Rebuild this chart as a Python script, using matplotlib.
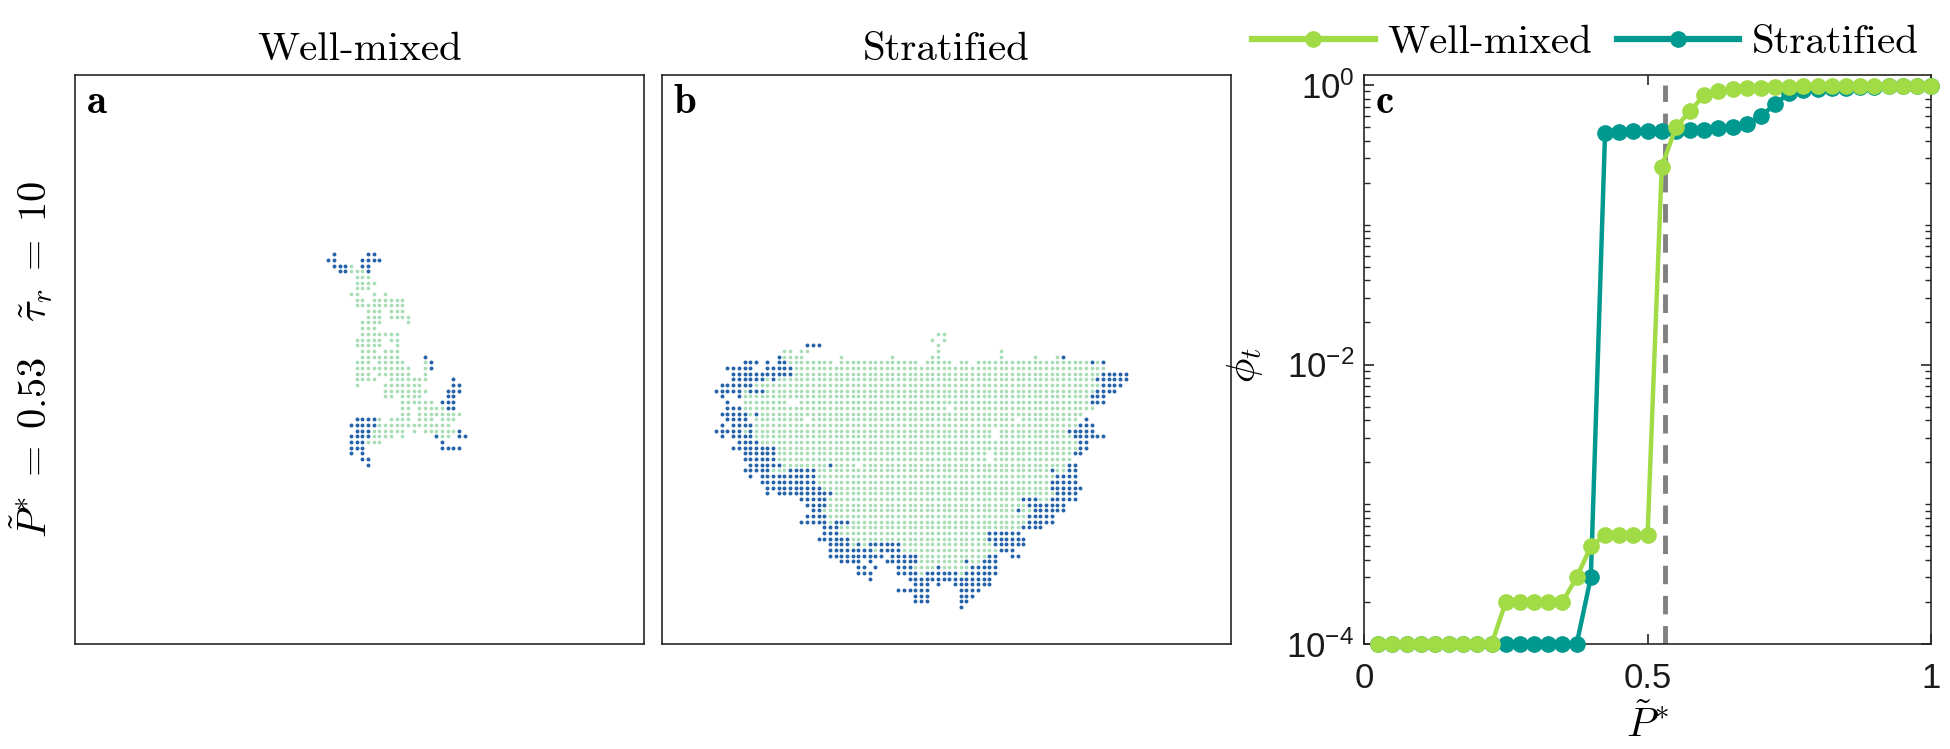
import numpy as np
import matplotlib
matplotlib.use('Agg')
import matplotlib.pyplot as plt
from matplotlib.lines import Line2D
from matplotlib.ticker import FixedLocator, NullFormatter

# lattice snapshots, one string per lattice row: "row: colA-colB<g|b> ..."
# g = interior (light green), b = boundary (blue)
well_mixed_rows = [
    "31: 45b 51-52b",
    "32: 44-45b 50-53b",
    "33: 45-47b 48g 50-51b",
    "34: 46-47b 48-50g 51b",
    "35: 49-51g",
    "36: 49-52g",
    "37: 49-51g",
    "38: 48-49g 52g 54g",
    "39: 49-50g 52-57g",
    "40: 49-57g",
    "41: 51-53g 55-57g",
    "42: 51-53g 55-58g",
    "43: 50-53g 58g",
    "44: 50-52g",
    "45: 50-56g",
    "46: 49-53g 55-56g",
    "47: 49-53g 56g",
    "48: 50-52g 54-56g",
    "49: 50-56g 61b",
    "50: 49-51g 53-57g 61g 62b",
    "51: 49-58g 61g 62b",
    "52: 49-51g 53-58g 61g",
    "53: 49-52g 55-61g 66b",
    "54: 49g 54-60g 66-67b",
    "55: 54-61g 65-67b",
    "56: 54-55g 57-60g 65-66b",
    "57: 57-62g 64-66b",
    "58: 57-58g 60-64g 65-66b",
    "59: 57-58g 60-67g",
    "60: 49-52b 53g 55-58g 60-62g 64-66g",
    "61: 48-52b 53-65g",
    "62: 49-51b 52-57g 59g 61-66g 67b",
    "63: 48-51b 52-55g 57g 63b 64-65g 67-68b",
    "64: 48-50b 51-53g 64b",
    "65: 48-50b 64-67b",
    "66: 48b 50b",
    "67: 50-51b",
    "68: 51b",
]

stratified_rows = [
    "45: 48-49g",
    "46: 47g 49g",
    "47: 25-27b 48g",
    "48: 21-22g 24-25g 48g 59g",
    "49: 20b 21-24g 31g 40g 47-48g 59g 65g 69g 70b",
    "50: 14-16b 18b 20-21b 22-29g 31-44g 46-50g 52-53g 55-74g 75b 76g 77b",
    "51: 11-15b 18-22b 23-77g",
    "52: 12-22b 23-76g 77-81b",
    "53: 12-17b 18g 19b 20-75g 76-81b",
    "54: 10-15b 16-76g 77-80b",
    "55: 9-13b 14g 15-17b 18-75g 76-79b",
    "56: 10b 13b 14-74g 75-77b",
    "57: 11b 14-21g 24-74g 75-77b",
    "58: 11-13b 14-49g 51-75g",
    "59: 10-14b 15g 16b 17-73g",
    "60: 11-14b 16-24g 26-61g 63-72g 74b",
    "61: 10b 12-15b 16-72g 73-75b",
    "62: 9-13b 14g 15b 16-57g 59-70g 71-75b",
    "63: 10b 12-15b 16-57g 59-71g 72-77b",
    "64: 13-16b 17-72g 73-74b",
    "65: 12-19b 20-72g 73-74b",
    "66: 14-19b 20-56g 58-71g 72-73b",
    "67: 14-19b 20-56g 58-71g",
    "68: 15-20b 21-28g 29b 30-33g 35-70g 71-72b",
    "69: 14-18b 19-21g 22-26b 27-67g 68b 69-70g 71-72b",
    "70: 15b 17-26b 27-68g 69-72b",
    "71: 17-26b 27-67g 68-72b",
    "72: 18-27b 28-67g 68-73b",
    "73: 18b 20-29b 30-68g 69-72b",
    "74: 24-28b 29-62g 63-65b 66-67g 68-72b",
    "75: 25-28b 29-63g 64-70b",
    "76: 26-27b 28-61g 62b 63-64g 65-70b",
    "77: 25-28b 29-63g 64-68b",
    "78: 24-28b 29g 30-32b 33-63g 64-68b",
    "79: 28-30b 31-62g 63-66b",
    "80: 28-30b 31-56g 57-62b",
    "81: 27-32b 33-56g 57-63b",
    "82: 29-32b 33g 34b 35g 36-41b 42-57g 58-63b",
    "83: 29-36b 37g 38-41b 42-58g 59-61b",
    "84: 29-38b 40-44b 45-56g 57-58b 61-62b",
    "85: 31-34b 36b 39-44b 45-52g 53b 54-55g 56-58b",
    "86: 34-35b 37b 41-43b 44-47g 48b 49-53g 54-58b",
    "87: 34-36b 41-44b 45g 46-51b 52g 53-58b",
    "88: 36b 43-57b",
    "89: 44-46b 48b 51-57b",
    "90: 41-46b 52-55b",
    "91: 44-46b 52-54b",
    "92: 44-46b 52-53b",
    "93: 52b",
]

# panel c
p_tilde = [0.025, 0.05, 0.075, 0.1, 0.125, 0.15, 0.175, 0.2, 0.225, 0.25,
           0.275, 0.3, 0.325, 0.35, 0.375, 0.4, 0.425, 0.45, 0.475, 0.5,
           0.525, 0.55, 0.575, 0.6, 0.625, 0.65, 0.675, 0.7, 0.725, 0.75,
           0.775, 0.8, 0.825, 0.85, 0.875, 0.9, 0.925, 0.95, 0.975, 1.0]
phi_well_mixed = [1e-4, 1e-4, 1e-4, 1e-4, 1e-4, 1e-4, 1e-4, 1e-4, 1e-4, 2e-4,
                  2e-4, 2e-4, 2e-4, 2e-4, 3e-4, 5e-4, 6e-4, 6e-4, 6e-4, 6e-4,
                  0.26, 0.50, 0.65, 0.85, 0.90, 0.93, 0.95, 0.96, 0.97, 0.97,
                  0.98, 0.98, 0.98, 0.99, 0.99, 0.99, 0.99, 0.99, 0.99, 0.99]
phi_stratified = [1e-4, 1e-4, 1e-4, 1e-4, 1e-4, 1e-4, 1e-4, 1e-4, 1e-4, 1e-4,
                  1e-4, 1e-4, 1e-4, 1e-4, 1e-4, 3e-4, 0.45, 0.46, 0.47, 0.47,
                  0.47, 0.47, 0.48, 0.48, 0.49, 0.50, 0.53, 0.60, 0.73, 0.88,
                  0.92, 0.94, 0.95, 0.96, 0.97, 0.97, 0.98, 0.98, 0.98, 0.99]
p_star = 0.53

col_green = '#a1db46'
col_teal = '#00998f'
col_in = '#a8ddb5'
col_edge = '#2563a8'
frame = '#262626'

plt.rcParams['font.family'] = ['Liberation Sans', 'DejaVu Sans']
plt.rcParams['mathtext.fontset'] = 'cm'


def parse_rows(rows):
    xs, ys, cs = [], [], []
    for line in rows:
        r, runs = line.split(':')
        r = int(r)
        for tok in runs.split():
            kind, span = tok[-1], tok[:-1]
            if '-' in span:
                a, b = map(int, span.split('-'))
            else:
                a = b = int(span)
            for c in range(a, b + 1):
                xs.append(c + 0.5)
                ys.append(r + 0.5)
                cs.append(kind)
    return np.array(xs), np.array(ys), np.array(cs)


def lattice_panel(ax, rows, title, letter):
    x, y, k = parse_rows(rows)
    g = k == 'g'
    ax.scatter(x[g], y[g], s=7, color=col_in, linewidths=0)
    ax.scatter(x[~g], y[~g], s=8, color=col_edge, linewidths=0)
    ax.set_xlim(0, 100)
    ax.set_ylim(100, 0)
    ax.set_xticks([])
    ax.set_yticks([])
    for s in ax.spines.values():
        s.set_color(frame)
        s.set_linewidth(1.2)
    ax.set_title(title, family='cmr10', fontsize=29.5, pad=11)
    ax.text(0.02, 0.985, letter, transform=ax.transAxes, ha='left', va='top',
            family='cmb10', fontsize=29.5)


fig = plt.figure(figsize=(19.5, 7.49), dpi=100)
ax_a = fig.add_axes([0.0385, 0.1402, 0.2918, 0.7597])
ax_b = fig.add_axes([0.3395, 0.1402, 0.2918, 0.7597])
ax_c = fig.add_axes([0.6995, 0.1402, 0.2908, 0.7597])

lattice_panel(ax_a, well_mixed_rows, 'Well-mixed', 'a')
lattice_panel(ax_b, stratified_rows, 'Stratified', 'b')
ax_a.set_ylabel(r'$\tilde{P}^{*}\;=\;0.53\quad\tilde{\tau}_r\;=\;10$', fontsize=29)
ax_a.yaxis.set_label_coords(-0.035, 0.5)

# panel c
ax_c.plot([p_star, p_star], [1e-4, 1], color='#808080', lw=3.5,
          dashes=(3.8, 2.4), zorder=1)
h_s, = ax_c.plot(p_tilde, phi_stratified, '-o', color=col_teal, lw=3.2,
                 ms=11, clip_on=False, zorder=3)
h_w, = ax_c.plot(p_tilde, phi_well_mixed, '-o', color=col_green, lw=3.2,
                 ms=11, clip_on=False, zorder=4)
ax_c.set_yscale('log')
ax_c.set_xlim(0, 1)
ax_c.set_ylim(1e-4, 10 ** 0.072)
ax_c.set_xticks([0, 0.5, 1])
ax_c.set_xticklabels(['0', '0.5', '1'])
ax_c.yaxis.set_major_locator(FixedLocator([1e-4, 1e-2, 1]))
ax_c.set_yticklabels([r'$\mathregular{10^{-4}}$', r'$\mathregular{10^{-2}}$',
                      r'$\mathregular{10^{0}}$'])
minors = [m * 10.0 ** e for e in (-4, -3, -2, -1) for m in range(2, 10)] + [1e-3, 1e-1]
ax_c.yaxis.set_minor_locator(FixedLocator(minors))
ax_c.yaxis.set_minor_formatter(NullFormatter())
ax_c.tick_params(which='both', direction='in', top=True, right=True,
                 colors=frame, labelcolor='#1a1a1a', labelsize=25)
ax_c.tick_params(axis='x', which='major', length=7, width=1.2, pad=13)
ax_c.tick_params(axis='y', which='major', length=7, width=1.2, pad=7)
ax_c.tick_params(which='minor', length=4, width=1.0)
for s in ax_c.spines.values():
    s.set_color(frame)
    s.set_linewidth(1.2)
ax_c.set_ylabel(r'$\phi_t$', fontsize=29.5)
ax_c.yaxis.set_label_coords(-0.175, 0.49)
ax_c.set_xlabel(r'$\tilde{P}^{*}$', fontsize=29.5)
ax_c.xaxis.set_label_coords(0.5, -0.105)
ax_c.text(0.02, 0.985, 'c', transform=ax_c.transAxes, ha='left', va='top',
          family='cmb10', fontsize=29.5)

leg_w = Line2D([], [], color=col_green, lw=4.5, marker='o', ms=11)
leg_s = Line2D([], [], color=col_teal, lw=4.5, marker='o', ms=11)
fig.legend([leg_w, leg_s], ['Well-mixed', 'Stratified'], loc='center',
           bbox_to_anchor=(0.813, 0.943), ncol=2, frameon=False,
           prop={'family': 'cmr10', 'size': 29.5}, handlelength=3.0,
           handletextpad=0.3, columnspacing=0.6, numpoints=1,
           borderaxespad=0, borderpad=0)

fig.savefig('out.png', dpi=100)
